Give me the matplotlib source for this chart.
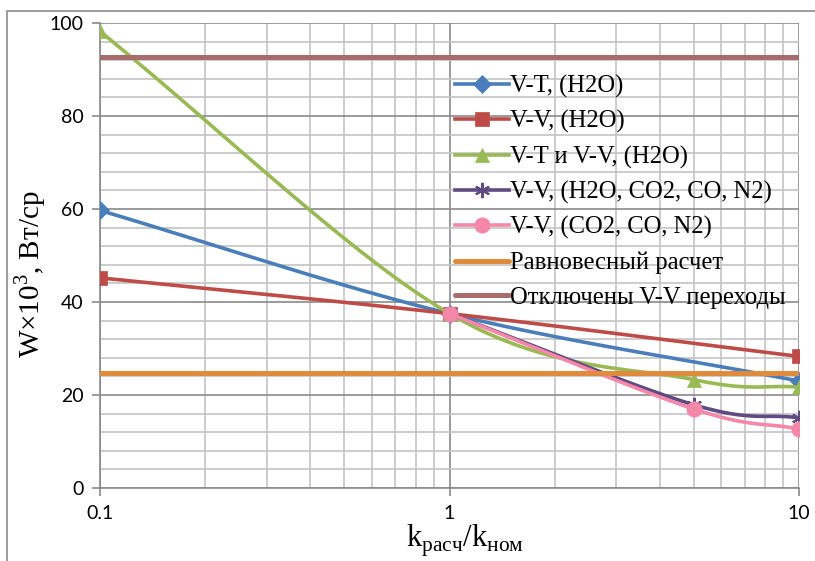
import numpy as np
import matplotlib
matplotlib.use("Agg")
import matplotlib.pyplot as plt
from matplotlib.ticker import FixedLocator, LogLocator, NullFormatter, FuncFormatter
from matplotlib.patches import Rectangle

plt.rcParams["mathtext.fontset"] = "custom"
plt.rcParams["mathtext.rm"] = "Liberation Serif"

# данные
k = [0.1, 1, 5, 10]
vt_h2o_x = [0.1, 1, 10]
vt_h2o = [59.7, 37.5, 23.0]
vv_h2o_x = [0.1, 1, 10]
vv_h2o = [45.2, 37.5, 28.3]
vt_vv_h2o = [98.2, 37.5, 23.3, 21.7]
vv_all_x = [1, 5, 10]
vv_all = [37.5, 17.9, 15.1]
vv_co2 = [37.5, 17.0, 12.7]
eq_x = [0.1, 10]
eq = [24.8, 24.8]
no_vv = [92.7, 92.7]

labels = ["V-T, (H2O)", "V-V, (H2O)", "V-T и V-V, (H2O)",
          "V-V, (H2O, CO2, CO, N2)", "V-V, (CO2, CO, N2)",
          "Равновесный расчет", "Отключены V-V переходы"]
colors = ["#4a7ebb", "#be4b48", "#98b954", "#5f4a83", "#f587a8", "#e08a3c", "#a86c6c"]


def smooth(x, y, n=40):
    # сглаженная линия как в Excel (безье в координатах log10(x))
    lx = np.log10(x)
    y = np.asarray(y, float)
    if len(lx) < 3:
        return x, y
    px = np.concatenate([[2 * lx[0] - lx[1]], lx, [2 * lx[-1] - lx[-2]]])
    py = np.concatenate([[2 * y[0] - y[1]], y, [2 * y[-1] - y[-2]]])
    ox, oy = [], []
    for i in range(1, len(px) - 2):
        t = np.linspace(0, 1, n)
        for P, out in ((px, ox), (py, oy)):
            p0, p1, p2, p3 = P[i - 1], P[i], P[i + 1], P[i + 2]
            c1 = p1 + (p2 - p0) / 6
            c2 = p2 - (p3 - p1) / 6
            out.extend((1 - t) ** 3 * p1 + 3 * (1 - t) ** 2 * t * c1 + 3 * (1 - t) * t ** 2 * c2 + t ** 3 * p2)
    return 10 ** np.array(ox), np.array(oy)


fig = plt.figure(figsize=(8.15, 5.61), dpi=100)
fig.patches.append(Rectangle((7 / 815, -0.1), 1.2, 1 - 10.5 / 561 + 0.1, transform=fig.transFigure,
                             fill=False, edgecolor="#8c8c8c", linewidth=1.2))
ax = fig.add_axes([100 / 815, 1 - 488 / 561, 699 / 815, 465 / 561])

series = [
    (vt_h2o_x, vt_h2o, "D", 9),
    (vv_h2o_x, vv_h2o, "s", 10),
    (k, vt_vv_h2o, "^", 10),
    (vv_all_x, vv_all, (6, 2, 0), 11),
    (vv_all_x, vv_co2, "o", 11),
]
for i, (xs, ys, m, ms) in enumerate(series):
    sx, sy = smooth(xs, ys)
    ax.plot(sx, sy, color=colors[i], lw=2.6, zorder=3 + i, solid_capstyle="round")
    ax.plot(xs, ys, linestyle="none", marker=m, markersize=ms, color=colors[i],
            markeredgecolor=colors[i], markeredgewidth=1.5 if i == 3 else 0.5, zorder=3 + i)
    ax.plot([], [], color=colors[i], lw=2.6, marker=m, markersize=ms,
            markeredgewidth=1.5 if i == 3 else 0.5, label=labels[i])
ax.plot(eq_x, eq, color=colors[5], lw=3.6, zorder=9, label=labels[5], solid_capstyle="round")
ax.plot(eq_x, no_vv, color=colors[6], lw=3.6, zorder=10, label=labels[6], solid_capstyle="round")

ax.set_xscale("log")
ax.set_xlim(0.1, 10)
ax.set_ylim(0, 100)
ax.xaxis.set_major_locator(FixedLocator([0.1, 1, 10]))
ax.xaxis.set_minor_locator(LogLocator(base=10, subs=range(2, 10)))
ax.xaxis.set_minor_formatter(NullFormatter())
ax.xaxis.set_major_formatter(FuncFormatter(lambda v, p: "%g" % v))
ax.set_yticks(range(0, 101, 20))
ax.set_yticks(range(0, 101, 4), minor=True)

ax.grid(which="major", color="#8a8a8a", lw=1.2, zorder=1)
ax.grid(which="minor", color="#c4c4c4", lw=1.2, zorder=0)
for s in ["top", "right"]:
    ax.spines[s].set_visible(False)
for s in ["left", "bottom"]:
    ax.spines[s].set_color("#8a8a8a")
    ax.spines[s].set_linewidth(1.2)
ax.tick_params(which="major", length=6, width=1.2, color="#8a8a8a", labelsize=14, pad=6)
ax.tick_params(which="minor", length=0)
for t in ax.get_xticklabels() + ax.get_yticklabels():
    t.set_family(["Lato", "DejaVu Sans"])

ax.set_xlabel(r"k$_{\mathregular{расч}}$/k$_{\mathregular{ном}}$", family="Liberation Serif", fontsize=22)
ax.xaxis.set_label_coords(0.522, -0.075, transform=ax.transAxes)
ax.xaxis.label.set_va("top")
ax.set_ylabel(r"W×10$^{\mathregular{3}}$, Вт/ср", family="Liberation Serif", fontsize=21, va="center")
ax.yaxis.set_label_coords(-0.1, 0.46)

leg = ax.legend(loc="upper left", bbox_to_anchor=(345 / 699, 1 - 42 / 465), frameon=False,
                prop={"family": "Liberation Serif", "size": 17.7}, handlelength=2.2,
                handletextpad=0.05, labelspacing=0.5, borderaxespad=0)

fig.savefig("out.png", dpi=100)
